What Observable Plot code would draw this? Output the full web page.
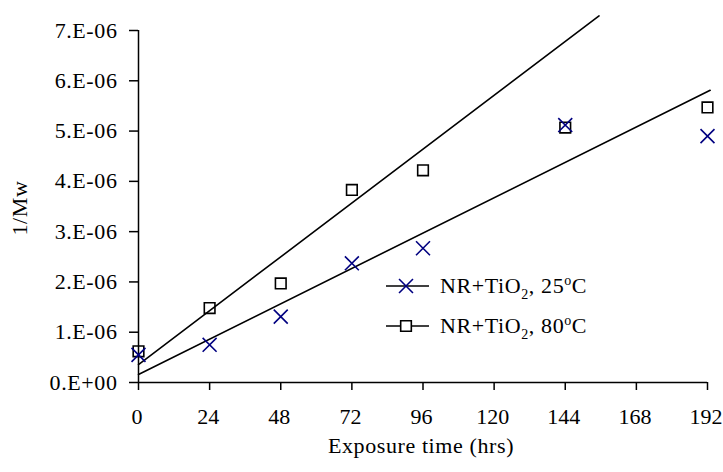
<!DOCTYPE html>
<html>
<head>
<meta charset="utf-8">
<script src="https://cdn.jsdelivr.net/npm/d3@7"></script>
<script src="https://cdn.jsdelivr.net/npm/@observablehq/plot@0.6"></script>
<style>
  html, body { margin: 0; padding: 0; background: #fff; }
  #chart svg { display: block; }
</style>
</head>
<body>
<div id="chart"></div>
<script>
// ---- data ----
const hours = [0, 24, 48, 72, 96, 144, 192];
const inv25 = [0.55e-6, 0.75e-6, 1.31e-6, 2.37e-6, 2.67e-6, 5.12e-6, 4.90e-6];
const inv80 = [0.62e-6, 1.48e-6, 1.97e-6, 3.83e-6, 4.22e-6, 5.07e-6, 5.47e-6];
// trend lines (endpoints)
const trend25X = [0, 192.9];
const trend25Y = [0.16e-6, 5.81e-6];
const trend80X = [0, 155.4];
const trend80Y = [0.357e-6, 7.29e-6];
const xTicks = [0, 24, 48, 72, 96, 120, 144, 168, 192];
const yTicks = [0, 1e-6, 2e-6, 3e-6, 4e-6, 5e-6, 6e-6, 7e-6];
const yTickLabels = ["0.E+00", "1.E-06", "2.E-06", "3.E-06", "4.E-06", "5.E-06", "6.E-06", "7.E-06"];
const seriesNames = ["NR+TiO|2|, 25|o|C", "NR+TiO|2|, 80|o|C"];
const xLabel = "Exposure time (hrs)";
const yLabel = "1/Mw";

const pts25 = hours.map((h, i) => ({x: h, y: inv25[i]}));
const pts80 = hours.map((h, i) => ({x: h, y: inv80[i]}));
const t25 = trend25X.map((x, i) => ({x, y: trend25Y[i]}));
const t80 = trend80X.map((x, i) => ({x, y: trend80Y[i]}));

const BLUE = "#000080";
const FONT = "'Liberation Serif', 'Times New Roman', serif";
const FS = 22;
const LS = "0.6px";

const chart = Plot.plot({
  width: 723,
  height: 472,
  marginLeft: 138,
  marginRight: 16,
  marginTop: 30,
  marginBottom: 90,
  style: {fontFamily: FONT, fontSize: FS + "px", color: "black", background: "white", letterSpacing: LS},
  x: {domain: [0, 192]},
  y: {domain: [0, 7e-6]},
  marks: [
    Plot.axisX({ticks: xTicks, tickSize: 8, tickPadding: 18, label: null, strokeWidth: 1.5, fontSize: FS}),
    Plot.axisY({ticks: yTicks, tickSize: 9, tickPadding: 12, label: null, strokeWidth: 1.5, fontSize: FS,
      tickFormat: (d) => yTickLabels[yTicks.findIndex(t => Math.abs(t - d) < 1e-12)]}),
    Plot.ruleY([0], {stroke: "black", strokeWidth: 1.5}),
    Plot.ruleX([0], {stroke: "black", strokeWidth: 1.5}),
    Plot.line(t80, {x: "x", y: "y", stroke: "black", strokeWidth: 1.6}),
    Plot.line(t25, {x: "x", y: "y", stroke: "black", strokeWidth: 1.6}),
    Plot.dot(pts80, {x: "x", y: "y", symbol: "square", r: 6.0, stroke: "black", strokeWidth: 1.6, fill: "none"}),
    Plot.dot(pts25, {x: "x", y: "y", symbol: "times", r: 6.4, stroke: BLUE, strokeWidth: 1.6})
  ]
});

document.getElementById("chart").appendChild(chart);

const svg = d3.select(chart);

// keep the x tick labels (e.g. "192") inside the picture
svg.selectAll("[aria-label='x-axis tick label'] text").style("letter-spacing", "0px").attr("dx", -1.5);

// axis titles
svg.append("text")
  .attr("x", 421).attr("y", 453)
  .attr("text-anchor", "middle")
  .style("font-family", FONT).style("font-size", FS + "px").style("letter-spacing", LS)
  .attr("fill", "black")
  .text(xLabel);

svg.append("text")
  .attr("transform", "translate(27,208) rotate(-90)")
  .attr("text-anchor", "middle")
  .style("font-family", FONT).style("font-size", FS + "px").style("letter-spacing", LS)
  .attr("fill", "black")
  .text(yLabel);

// legend
const legendItems = [
  {name: seriesNames[0], symbol: d3.symbolTimes, size: Math.PI * 6.4 * 6.4, stroke: BLUE, y: 286},
  {name: seriesNames[1], symbol: d3.symbolSquare, size: Math.PI * 6.0 * 6.0, stroke: "black", y: 326}
];
const lg = svg.append("g");
legendItems.forEach(it => {
  lg.append("line").attr("x1", 386).attr("x2", 429).attr("y1", it.y).attr("y2", it.y)
    .attr("stroke", "black").attr("stroke-width", 1.6);
  lg.append("path").attr("d", d3.symbol(it.symbol, it.size)())
    .attr("transform", `translate(406,${it.y})`)
    .attr("fill", it.symbol === d3.symbolSquare ? "white" : "none")
    .attr("stroke", it.stroke).attr("stroke-width", 1.6);
  const t = lg.append("text").attr("x", 440).attr("y", it.y + 7)
    .attr("text-anchor", "start")
    .style("font-family", FONT).style("font-size", FS + "px").style("letter-spacing", LS)
    .attr("fill", "black");
  const parts = it.name.split("|");
  t.append("tspan").text(parts[0]);
  t.append("tspan").attr("dy", 6).style("font-size", "14px").text(parts[1]);
  t.append("tspan").attr("dy", -6).text(parts[2]);
  t.append("tspan").attr("dy", -8).style("font-size", "14px").text(parts[3]);
  t.append("tspan").attr("dy", 8).text(parts[4]);
});
</script>
</body>
</html>
